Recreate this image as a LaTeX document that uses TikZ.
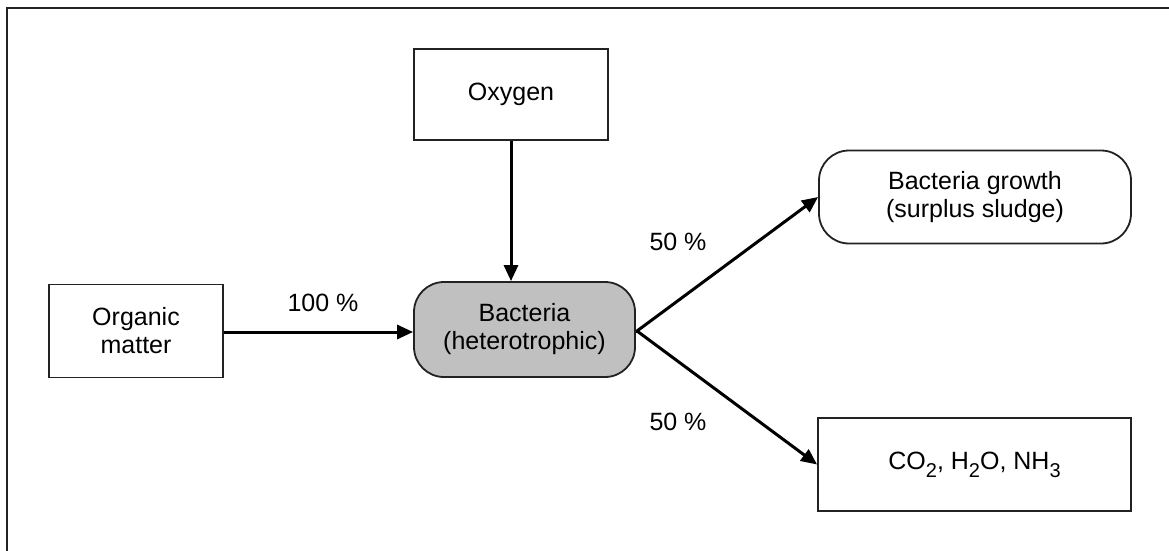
\documentclass[tikz,border=0pt]{standalone}
\usepackage{fontspec}
\setmainfont{Liberation Sans}
\usetikzlibrary{arrows.meta}
\definecolor{edge}{HTML}{222222}
\definecolor{cellgray}{HTML}{C0C0C0}
% chemical subscript: large and dropped well below the baseline
\newcommand\chemsub[1]{\raisebox{-8pt}{\fontsize{20}{20}\selectfont #1}}
\begin{document}
\begin{tikzpicture}[x=1pt,y=-1pt,
  every node/.style={font=\fontsize{25}{28}\selectfont, text=black},
  squarebox/.style={draw=edge, line width=1.8pt, rectangle, align=center, inner sep=0pt},
  roundbox/.style={draw=edge, line width=1.8pt, rectangle, rounded corners=30pt, align=center, inner sep=0pt},
  flow/.style={line width=3pt, -{Triangle[length=16pt,width=14pt]}},
  pct/.style={inner sep=0pt}]
  \useasboundingbox (0,0) rectangle (1169,551);
  \fill[white] (0,0) rectangle (1169,551);
  % frame lines along the top and left edge
  \draw[edge, line width=2pt] (7,551) -- (7,8) -- (1169,8);

  % boxes
  \node[squarebox, minimum width=194pt, minimum height=91pt] (oxy) at (511,94.5) {Oxygen};
  \node[squarebox, minimum width=174pt, minimum height=93pt] (org) at (136,331) {Organic\\matter};
  \node[roundbox, fill=cellgray, minimum width=221pt, minimum height=95pt] (bac) at (524.5,329.5) {Bacteria\\(heterotrophic)};
  \node[roundbox, minimum width=312pt, minimum height=93pt] (grow) at (975,197) {Bacteria growth\\(surplus sludge)};
  \node[squarebox, minimum width=313pt, minimum height=93pt] (gas) at (974.5,464.5) {CO\chemsub{2}, H\chemsub{2}O, NH\chemsub{3}};

  % flows
  \coordinate (split) at (637,331);
  \draw[flow] (oxy.south) -- (oxy.south |- bac.north);
  \draw[flow] (org.east |- 0,332) -- (bac.west |- 0,332);
  \draw[line width=3pt] (bac.east |- split) -- (split);
  \draw[flow] (split) -- (grow.west);
  \draw[flow] (split) -- (gas.west);

  % labels
  \node[pct] (l100) at (323,303) {100 \%};
  \node[pct] (l50a) at (678,242) {50 \%};
  \node[pct] (l50b) at (678,422) {50 \%};
\end{tikzpicture}
\end{document}
